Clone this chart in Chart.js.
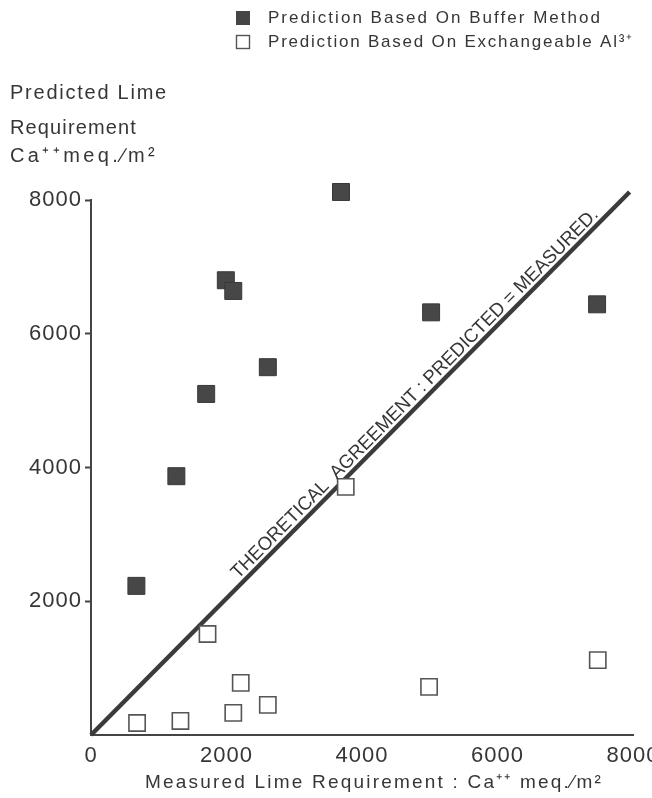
<!DOCTYPE html>
<html><head><meta charset="utf-8">
<script src="https://cdn.jsdelivr.net/npm/chart.js@4/dist/chart.umd.min.js"></script>
<style>
html,body{margin:0;padding:0;background:#fff;overflow:hidden;width:652px;height:798px}
#wrap{position:absolute;left:0;top:0;width:700px;height:798px}
</style>
</head><body>
<div id="wrap"><canvas id="c" width="700" height="798"></canvas></div>
<script>
// ---- data ----
const xTickValues = [0, 2000, 4000, 6000, 8000];
const yTickValues = [0, 2000, 4000, 6000, 8000];
const bufferMeasured  = [670, 1260, 1700, 1990, 2100, 2610, 3690, 5020, 7470];
const bufferPredicted = [2230, 3870, 5100, 6800, 6640, 5500, 8120, 6320, 6440];
const alMeasured      = [680, 1320, 1720, 2100, 2210, 2610, 3760, 4990, 7480];
const alPredicted     = [180, 210, 1510, 330, 780, 450, 3710, 720, 1120];
const agreementMeasured  = [0, 7950];
const agreementPredicted = [0, 8120];
const legendLabels = ['Prediction Based On Buffer Method', 'Prediction Based On Exchangeable Al\u00B3\u207A'];
const yTitleLines = ['Predicted Lime', 'Requirement', 'Ca\u207A\u207Ameq.\u2215m\u00B2'];
const xTitle = 'Measured Lime Requirement : Ca\u207A\u207A meq.\u2215m\u00B2';
const lineLabel = 'THEORETICAL  AGREEMENT : PREDICTED = MEASURED.';

const INK = '#363636';
const FONT = '"Liberation Sans", Arial, sans-serif';
const pts = (xs, ys) => xs.map((x, i) => ({x: x, y: ys[i]}));

function fitText(ctx, text, x, y, targetW) {
  ctx.letterSpacing = '0px';
  const w = ctx.measureText(text).width;
  const n = Array.from(text).length;
  if ('letterSpacing' in ctx) {
    ctx.letterSpacing = ((targetW - w) / n) + 'px';
    ctx.fillText(text, x, y);
    ctx.letterSpacing = '0px';
  } else {
    ctx.save(); ctx.translate(x, y); ctx.scale(targetW / w, 1); ctx.fillText(text, 0, 0); ctx.restore();
  }
}

const decor = {
  id: 'decor',
  beforeDraw(chart) {
    chart.ctx.letterSpacing = '1px';
  },
  afterDraw(chart) {
    const ctx = chart.ctx;
    const xs = chart.scales.x, ys = chart.scales.y;
    ctx.save();
    ctx.fillStyle = INK;
    ctx.textBaseline = 'middle';
    ctx.textAlign = 'left';
    // legend
    const legY = [18, 42];
    const legW = [334, 366];
    ctx.font = '17px ' + FONT;
    for (let i = 0; i < legendLabels.length; i++) {
      const y = legY[i];
      if (i === 0) {
        ctx.fillStyle = '#454545';
        ctx.fillRect(236, y - 7, 14, 14);
      } else {
        ctx.fillStyle = '#fff';
        ctx.fillRect(236, y - 7, 14, 14);
        ctx.strokeStyle = '#555'; ctx.lineWidth = 1.4;
        ctx.strokeRect(236.5, y - 6.5, 13, 13);
      }
      ctx.fillStyle = INK;
      fitText(ctx, legendLabels[i], 268, y, legW[i]);
    }
    // y title
    ctx.font = '20px ' + FONT;
    const yT = [93, 128, 156];
    const yW = [158, 127, 148];
    yTitleLines.forEach((t, i) => fitText(ctx, t, 10, yT[i], yW[i]));
    // x title
    ctx.font = '19px ' + FONT;
    fitText(ctx, xTitle, 145, 783, 458);
    // diagonal label along the agreement line
    const p0x = xs.getPixelForValue(agreementMeasured[0]), p0y = ys.getPixelForValue(agreementPredicted[0]);
    const p1x = xs.getPixelForValue(agreementMeasured[1]), p1y = ys.getPixelForValue(agreementPredicted[1]);
    const ang = Math.atan2(p1y - p0y, p1x - p0x);
    const len = Math.hypot(p1x - p0x, p1y - p0y);
    ctx.translate(p0x, p0y);
    ctx.rotate(ang);
    ctx.font = '19px ' + FONT;
    ctx.textBaseline = 'alphabetic';
    ctx.letterSpacing = '0px';
    const tw = ctx.measureText(lineLabel).width;
    const target = len * 0.67;
    ctx.translate(len * 0.28, -5);
    ctx.scale(target / tw, 1);
    ctx.fillText(lineLabel, 0, 0);
    ctx.restore();
  }
};

new Chart(document.getElementById('c'), {
  data: {
    datasets: [
      {
        type: 'line', label: 'Theoretical agreement',
        data: pts(agreementMeasured, agreementPredicted),
        borderColor: '#3b3b3b', borderWidth: 4.5, pointRadius: 0,
        fill: false, tension: 0, clip: false, order: 3
      },
      {
        type: 'scatter', label: legendLabels[1],
        data: pts(alMeasured, alPredicted),
        pointStyle: 'rect', pointRadius: 11.5,
        backgroundColor: '#ffffff', borderColor: '#555', borderWidth: 1.6,
        clip: false, order: 2
      },
      {
        type: 'scatter', label: legendLabels[0],
        data: pts(bufferMeasured, bufferPredicted),
        pointStyle: 'rect', pointRadius: 12,
        backgroundColor: '#474747', borderColor: '#383838', borderWidth: 1,
        clip: false, order: 1
      }
    ]
  },
  options: {
    responsive: false, animation: false, devicePixelRatio: 1,
    layout: { padding: { top: 200, right: 67, left: 0, bottom: 0 } },
    plugins: { legend: { display: false }, tooltip: { enabled: false } },
    scales: {
      x: {
        type: 'linear', min: 0, max: 8000,
        afterBuildTicks: s => { s.ticks = xTickValues.map(v => ({value: v})); },
        afterFit: s => { s.height = 63; },
        ticks: { color: INK, font: { size: 22, family: FONT }, padding: 8, maxRotation: 0, autoSkip: false,
                 callback: v => String(v) },
        grid: { drawOnChartArea: false, drawTicks: false },
        border: { color: '#444', width: 2 }
      },
      y: {
        type: 'linear', min: 0, max: 8000,
        afterBuildTicks: s => { s.ticks = yTickValues.map(v => ({value: v})); },
        afterFit: s => { s.width = 91; },
        ticks: { color: INK, font: { size: 22, family: FONT }, padding: 3,
                 callback: v => v === 0 ? '' : String(v) },
        grid: { drawOnChartArea: false, tickLength: 6, tickWidth: 2,
                tickColor: c => (c.tick && c.tick.value === 0) ? 'rgba(0,0,0,0)' : '#444' },
        border: { color: '#444', width: 2 }
      }
    }
  },
  plugins: [decor]
});
</script>
</body></html>
